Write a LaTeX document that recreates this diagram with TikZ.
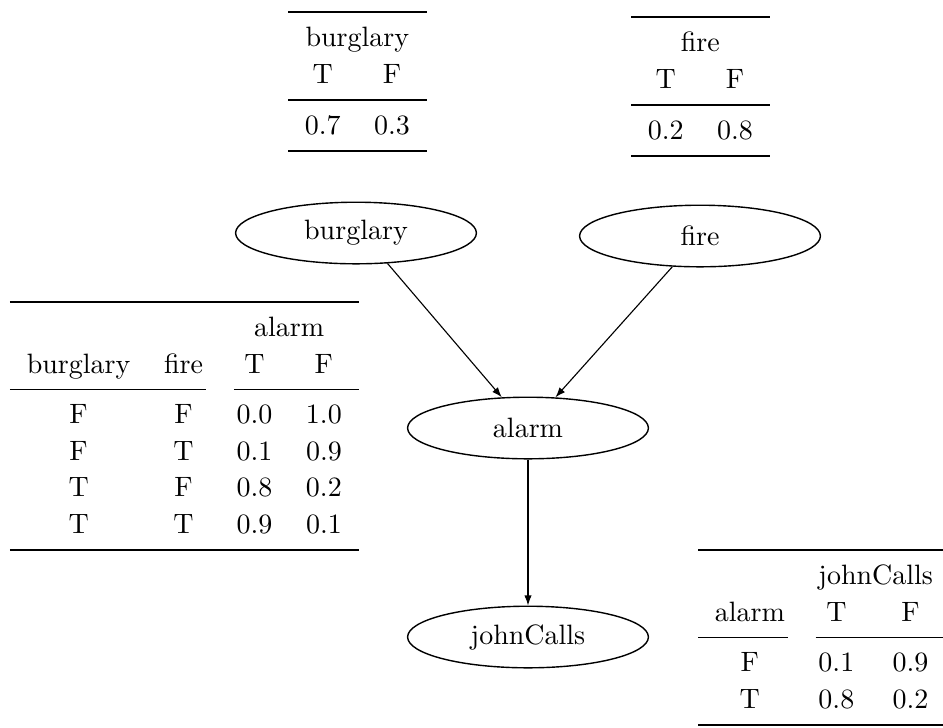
\documentclass[tikz,border=0pt]{standalone}
\usepackage{booktabs}
\usetikzlibrary{shapes.geometric,arrows.meta}
\renewcommand{\arraystretch}{1.09}
\begin{document}
\begin{tikzpicture}[x=0.35714pt,y=-0.35714pt,
  var/.style={draw, ellipse, minimum width=86pt, minimum height=22pt,
    inner sep=0pt, line width=0.5pt},
  cpt/.style={inner sep=0pt, outer sep=0pt, anchor=north west},
  edge/.style={-{Latex[length=3.6pt,width=2.6pt]}, line width=0.4pt}]
\useasboundingbox (0,0) rectangle (943,727);

% network variables
\node[var] (burglary)  at (356,233) {burglary};
\node[var] (fire)      at (700,236) {fire};
\node[var] (alarm)     at (528,428) {alarm};
\node[var] (johnCalls) at (528,637) {johnCalls};

% dependencies
\draw[edge] (burglary.-44) -- (alarm);
\draw[edge] (fire.-132) -- (alarm);
\draw[edge] (alarm) -- (johnCalls);

% conditional probability tables
\node[cpt] (cptBurglary) at (288,11) {%
  \begin{tabular}{cc}\toprule
    \multicolumn{2}{c}{burglary}\\
    T & F\\ \midrule
    0.7 & 0.3\\ \bottomrule
  \end{tabular}};

\node[cpt] (cptFire) at (631,16) {%
  \begin{tabular}{cc}\toprule
    \multicolumn{2}{c}{fire}\\
    T & F\\ \midrule
    0.2 & 0.8\\ \bottomrule
  \end{tabular}};

\node[cpt] (cptAlarm) at (10,301) {%
  \begin{tabular}{cccc}\toprule
    & & \multicolumn{2}{c}{alarm}\\
    burglary & fire & T & F\\
    \cmidrule(r){1-2}\cmidrule(l){3-4}
    F & F & 0.0 & 1.0\\
    F & T & 0.1 & 0.9\\
    T & F & 0.8 & 0.2\\
    T & T & 0.9 & 0.1\\ \bottomrule
  \end{tabular}};

\node[cpt] (cptJohnCalls) at (698,549) {%
  \begin{tabular}{ccc}\toprule
    & \multicolumn{2}{c}{johnCalls}\\
    alarm & T & F\\
    \cmidrule(r){1-1}\cmidrule(l){2-3}
    F & 0.1 & 0.9\\
    T & 0.8 & 0.2\\ \bottomrule
  \end{tabular}};
\end{tikzpicture}
\end{document}
